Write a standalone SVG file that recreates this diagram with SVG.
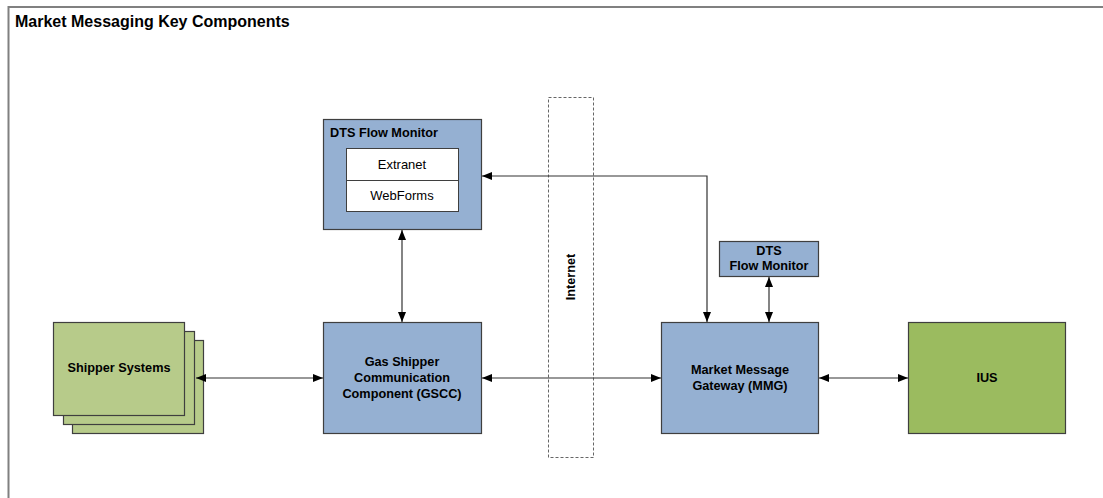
<svg xmlns="http://www.w3.org/2000/svg" width="1103" height="498" viewBox="0 0 1103 498">
<defs>
<style>
.frame{fill:none;stroke:#808080;stroke-width:2}
.blue{fill:#95B0D2;stroke:#3F3F3F;stroke-width:1.2}
.lgreen{fill:#B7CB8A;stroke:#3F3F3F;stroke-width:1.2}
.green{fill:#9BBB5F;stroke:#3F3F3F;stroke-width:1.2}
.white{fill:#FFFFFF;stroke:#3F3F3F;stroke-width:1}
.dash{fill:none;stroke:#666;stroke-width:1;stroke-dasharray:3,2}
.t{font-family:"Liberation Sans",Arial,sans-serif;font-size:13px;fill:#000}
.b{font-weight:bold;font-size:12.7px}
.c{text-anchor:middle}
.conn{fill:none;stroke:#333;stroke-width:1.2}
</style>
<marker id="ah" viewBox="0 0 10 8" refX="10" refY="4" markerWidth="10" markerHeight="8" markerUnits="userSpaceOnUse" orient="auto-start-reverse">
<path d="M0,0 L10,4 L0,8 Z" fill="#000"/>
</marker>
</defs>
<rect width="1103" height="498" fill="#fff"/>
<rect class="frame" x="8.5" y="7" width="1110" height="510"/>
<text class="t b" x="15" y="27" style="font-size:16px">Market Messaging Key Components</text>

<g id="internet">
<rect class="dash" x="548.5" y="97.5" width="45" height="360"/>
<text class="t b c" transform="translate(575,277) rotate(-90)">Internet</text>
</g>

<g id="dts-main">
<rect class="blue" x="323.5" y="119.5" width="158" height="110"/>
<text class="t b" x="330" y="137">DTS Flow Monitor</text>
<rect class="white" x="346.5" y="148.5" width="112" height="32"/>
<rect class="white" x="346.5" y="180.5" width="112" height="31"/>
<text class="t c" x="402" y="169">Extranet</text>
<text class="t c" x="402" y="200">WebForms</text>
</g>

<g id="shipper">
<rect class="lgreen" x="72.5" y="340.5" width="131" height="93"/>
<rect class="lgreen" x="63.5" y="331.5" width="131" height="93"/>
<rect class="lgreen" x="53.5" y="322.5" width="131" height="93"/>
<text class="t b c" x="119" y="372">Shipper Systems</text>
</g>

<g id="gscc">
<rect class="blue" x="323.5" y="322.5" width="158" height="111"/>
<text class="t b c" x="402" y="366">Gas Shipper</text>
<text class="t b c" x="402" y="382">Communication</text>
<text class="t b c" x="402" y="398">Component (GSCC)</text>
</g>

<g id="mmg">
<rect class="blue" x="661.5" y="322.5" width="157" height="111"/>
<text class="t b c" x="740" y="374">Market Message</text>
<text class="t b c" x="740" y="390">Gateway (MMG)</text>
</g>

<g id="dts-small">
<rect class="blue" x="719.5" y="241.5" width="99" height="35"/>
<text class="t b c" x="769" y="255">DTS</text>
<text class="t b c" x="769" y="270">Flow Monitor</text>
</g>

<g id="ius">
<rect class="green" x="908.5" y="322.5" width="157" height="111"/>
<text class="t b c" x="987" y="382">IUS</text>
</g>

<g id="connectors">
<line class="conn" x1="196" y1="378" x2="323" y2="378" marker-start="url(#ah)" marker-end="url(#ah)"/>
<line class="conn" x1="482" y1="378" x2="661" y2="378" marker-start="url(#ah)" marker-end="url(#ah)"/>
<line class="conn" x1="819" y1="378" x2="908" y2="378" marker-start="url(#ah)" marker-end="url(#ah)"/>
<line class="conn" x1="402" y1="230" x2="402" y2="322" marker-start="url(#ah)" marker-end="url(#ah)"/>
<line class="conn" x1="769" y1="277" x2="769" y2="322" marker-start="url(#ah)" marker-end="url(#ah)"/>
<polyline class="conn" points="482,176 707,176 707,322" marker-start="url(#ah)" marker-end="url(#ah)"/>
</g>
</svg>
